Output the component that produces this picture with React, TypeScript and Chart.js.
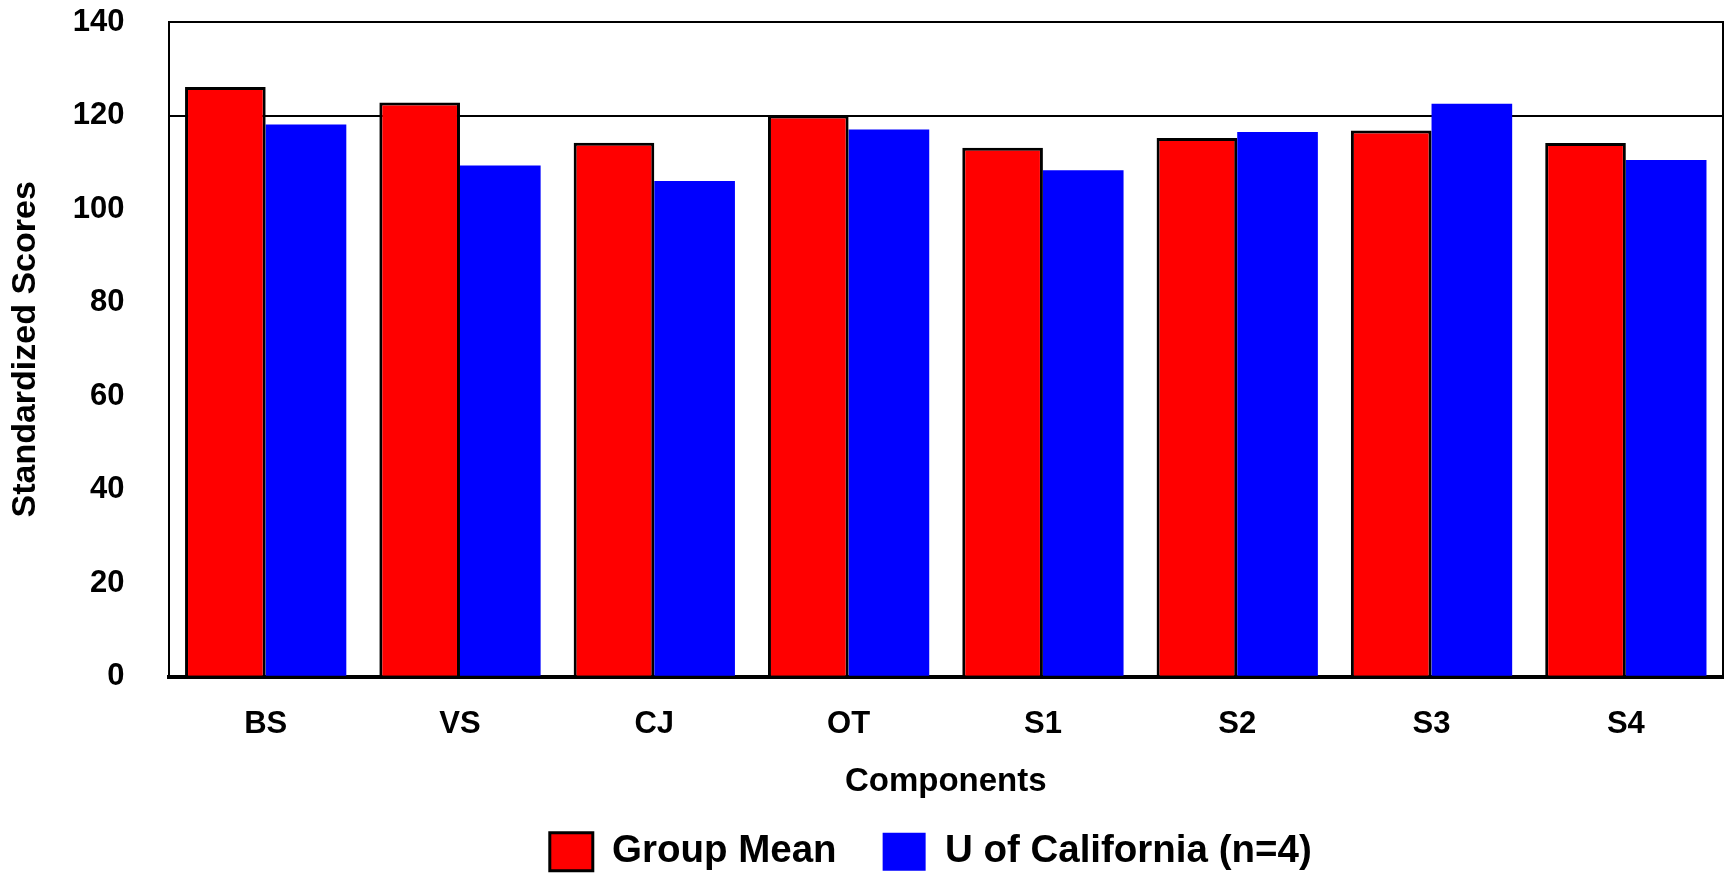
import React, { useEffect, useRef } from "react";
import { Chart, registerables } from "chart.js";

Chart.register(...registerables);

const categories = ["BS", "VS", "CJ", "OT", "S1", "S2", "S3", "S4"];
const groupMean = [126.1, 122.8, 114.2, 120.0, 113.1, 115.2, 116.8, 114.1];
const uOfCalifornia = [118.1, 109.3, 106.0, 117.0, 108.3, 116.5, 122.5, 110.5];
const seriesNames = ["Group Mean", "U of California (n=4)"];
const gridValues = [120, 140];

const FONT = "Arial, 'Liberation Sans', Helvetica, sans-serif";

const frameAndLegendPlugin = {
  id: "frameAndLegend",
  afterLayout(chart: any) {
    const legend = chart.legend;
    const area = chart.chartArea;
    if (legend && area) {
      legend.left = area.left - 30;
      legend.right = area.right;
      legend.width = legend.right - legend.left;
    }
  },
  afterDatasetsDraw(chart: any) {
    const { ctx, chartArea } = chart;
    ctx.save();
    ctx.strokeStyle = "#000";
    ctx.lineWidth = 2;
    ctx.beginPath();
    ctx.moveTo(chartArea.left, chartArea.top);
    ctx.lineTo(chartArea.right, chartArea.top);
    ctx.lineTo(chartArea.right, chartArea.bottom);
    ctx.stroke();
    ctx.restore();
  },
};

export default function App() {
  const canvasRef = useRef<HTMLCanvasElement | null>(null);

  useEffect(() => {
    if (!canvasRef.current) return;
    const chart = new Chart(canvasRef.current, {
      type: "bar",
      data: {
        labels: categories,
        datasets: [
          {
            label: seriesNames[0],
            data: groupMean,
            backgroundColor: "#ff0000",
            borderColor: "#000000",
            borderWidth: 3,
          },
          {
            label: seriesNames[1],
            data: uOfCalifornia,
            backgroundColor: "#0000ff",
            borderColor: "#0000ff",
            borderWidth: 0,
          },
        ],
      },
      options: {
        animation: false,
        responsive: false,
        maintainAspectRatio: false,
        devicePixelRatio: 1,
        datasets: {
          bar: { categoryPercentage: 0.83, barPercentage: 1.0 },
        },
        layout: { padding: { top: 22, left: 6, right: 7, bottom: -3 } },
        plugins: {
          legend: {
            position: "bottom",
            labels: {
              boxWidth: 43,
              boxHeight: 38,
              padding: 46,
              color: "#000",
              font: { family: FONT, size: 38.5, weight: "bold" },
            },
          },
          tooltip: { enabled: false },
        },
        scales: {
          x: {
            grid: { display: false, drawTicks: false },
            border: { display: true, color: "#000", width: 4 },
            ticks: {
              color: "#000",
              padding: 29,
              maxRotation: 0,
              font: { family: FONT, size: 31, weight: "bold" },
            },
            title: {
              display: true,
              text: "Components",
              color: "#000",
              font: { family: FONT, size: 33, weight: "bold" },
              padding: { top: -10, bottom: -15 },
            },
          },
          y: {
            min: 0,
            max: 140,
            afterFit: (axis: any) => {
              axis.paddingTop = 0;
              axis.paddingBottom = 0;
            },
            ticks: {
              stepSize: 20,
              color: "#000",
              padding: 44,
              font: { family: FONT, size: 31, weight: "bold" },
            },
            grid: {
              drawTicks: false,
              lineWidth: 2,
              color: (ctx: any) =>
                ctx.tick && gridValues.includes(ctx.tick.value) ? "#000" : "rgba(0,0,0,0)",
            },
            border: { display: true, color: "#000", width: 2 },
            title: {
              display: true,
              text: "Standardized Scores",
              color: "#000",
              font: { family: FONT, size: 34, weight: "bold" },
              padding: { top: -1, bottom: -17 },
            },
          },
        },
      },
      plugins: [frameAndLegendPlugin],
    } as any);
    return () => chart.destroy();
  }, []);

  return (
    <div style={{ position: "fixed", left: 0, top: 0, width: 1730, height: 878, background: "#fff" }}>
      <canvas ref={canvasRef} width={1730} height={878} style={{ width: 1730, height: 878 }} />
    </div>
  );
}
